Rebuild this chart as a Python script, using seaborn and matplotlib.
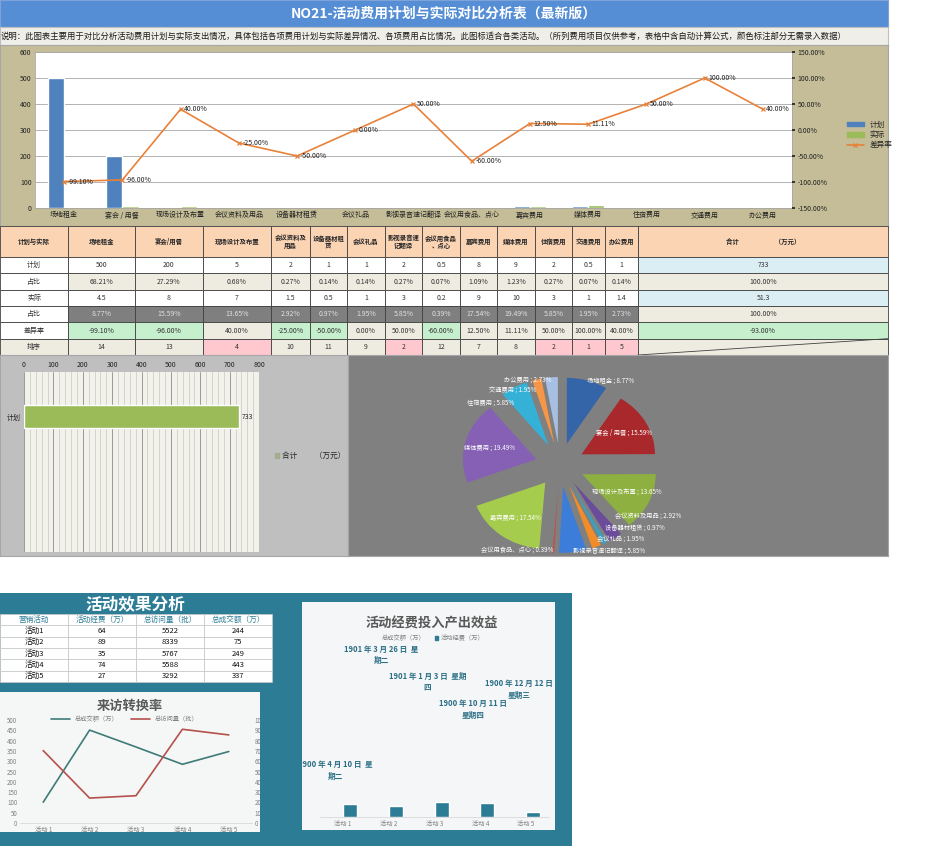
import numpy as np
import pandas as pd
import matplotlib
matplotlib.use('Agg')
import matplotlib.pyplot as plt
from matplotlib.patches import Patch
from matplotlib.lines import Line2D
from matplotlib.ticker import MultipleLocator
import seaborn as sns

# ---- cost plan vs actual ----
items = ['场地租金', '宴会 / 用餐', '现场设计及布置', '会议资料及用品', '设备器材租赁', '会议礼品',
         '影视录音速记翻译', '会议用食品、点心', '嘉宾费用', '媒体费用', '住宿费用', '交通费用', '办公费用']
table_headers = ['场地租金', '宴会/用餐', '现场设计及布置', '会议资料及\n用品', '设备器材租\n赁', '会议礼品',
                 '影视录音速\n记翻译', '会议用食品\n、点心', '嘉宾费用', '媒体费用', '住宿费用', '交通费用', '办公费用']
plan = [500, 200, 5, 2, 1, 1, 2, 0.5, 8, 9, 2, 0.5, 1]
plan_share = [68.21, 27.29, 0.68, 0.27, 0.14, 0.14, 0.27, 0.07, 1.09, 1.23, 0.27, 0.07, 0.14]
actual = [4.5, 8, 7, 1.5, 0.5, 1, 3, 0.2, 9, 10, 3, 1, 1.4]
actual_share = [8.77, 15.59, 13.65, 2.92, 0.97, 1.95, 5.85, 0.39, 17.54, 19.49, 5.85, 1.95, 2.73]
diff_rate = [-99.10, -96.00, 40.00, -25.00, -50.00, 0.00, 50.00, -60.00, 12.50, 11.11, 50.00, 100.00, 40.00]
rank = [14, 13, 4, 10, 11, 9, 2, 12, 7, 8, 2, 1, 5]
plan_total = 733
actual_total = 51.3
diff_total = -93.00

pie_colors = ['#3465A8', '#A8282B', '#8DB041', '#6B4C9A', '#3AA0C0', '#F28C28', '#3B7DD8',
              '#C0504D', '#A6CC4E', '#8560B5', '#35B0D6', '#F79646', '#A7BFE3']

# ---- activity effect section ----
activities = ['活动1', '活动2', '活动3', '活动4', '活动5']
act_fund = [64, 89, 35, 74, 27]
act_visits = [5522, 8339, 5767, 5588, 3292]
act_deal = [244, 75, 249, 443, 337]

chart_acts = ['活动 1', '活动 2', '活动 3', '活动 4', '活动 5']
deal_line = [101, 451, 369, 285, 347]
visit_line = [7030, 2420, 2650, 9100, 8550]
fund_bars = [38, 32, 46, 43, 15]
deal_labels = ['1900 年 4 月 10 日  星\n期二', '1901 年 3 月 26 日  星\n期二', '1901 年 1 月 3 日  星期\n四',
               '1900 年 10 月 11 日\n星期四', '1900 年 12 月 12 日\n星期三']

TEAL = '#2C7C95'
W, H = 927, 846

sns.set_theme(style='white')
plt.rcParams['font.family'] = ['Noto Sans CJK SC', 'DejaVu Sans']
plt.rcParams['axes.unicode_minus'] = False

fig = plt.figure(figsize=(W / 100, H / 100), dpi=100)


def px_axes(x0, y0, x1, y1):
    # axes placed by pixel box, y measured from the top
    return fig.add_axes([x0 / W, 1 - y1 / H, (x1 - x0) / W, (y1 - y0) / H])


def panel(x0, y0, x1, y1, color, edge=None):
    ax = px_axes(x0, y0, x1, y1)
    ax.set_facecolor(color)
    ax.set_xticks([])
    ax.set_yticks([])
    for s in ax.spines.values():
        s.set_visible(edge is not None)
        if edge:
            s.set_edgecolor(edge)
            s.set_linewidth(0.8)
    return ax


def ftext(x, y, s, **kw):
    return fig.text(x / W, 1 - y / H, s, **kw)


# ---- title and description ----
panel(0, 0, 888, 27, '#558ED5', edge='#7FA3D9')
ftext(444, 14, 'NO21-活动费用计划与实际对比分析表（最新版）', color='white', fontsize=10,
      weight='bold', ha='center', va='center')
panel(0, 27, 888, 45, '#EFEEE8', edge='#BFBFBF')
ftext(1, 36, '说明：此图表主要用于对比分析活动费用计划与实际支出情况，具体包括各项费用计划与实际差异情况、'
      '各项费用占比情况。此图标适合各类活动。（所列费用项目仅供参考，表格中含自动计算公式，颜色标注部分无需录入数据）',
      fontsize=6, va='center', color='#1A1A1A')

# ---- main combo chart ----
panel(0, 45, 888, 226, '#C4BD97', edge='#A6A6A6')
ax = px_axes(35, 52, 792, 208)
ax.set_facecolor('white')
bars_df = pd.DataFrame({'项目': items * 2, '金额': plan + actual,
                        '类型': ['计划'] * len(items) + ['实际'] * len(items)})
sns.barplot(data=bars_df, x='项目', y='金额', hue='类型', palette={'计划': '#4F81BD', '实际': '#9BBB59'},
            width=0.56, saturation=1, legend=False, ax=ax)
ax.set_ylim(0, 600)
ax.set_yticks(range(0, 601, 100))
ax.yaxis.grid(True, color='#A6A6A6', lw=0.6)
ax.set_axisbelow(True)
ax.set_xlabel('')
ax.set_ylabel('')
ax.tick_params(axis='both', labelsize=5, colors='#222222', pad=2.5, length=0)
for s in ax.spines.values():
    s.set_color('#A6A6A6')
    s.set_linewidth(0.6)

ax2 = ax.twinx()
sns.pointplot(x=items, y=diff_rate, color='#E8813A', markers='x', markersize=3, linewidth=1.2,
              errorbar=None, ax=ax2)
ax2.set_ylim(-150, 150)
ax2.set_yticks(range(-150, 151, 50))
ax2.set_yticklabels([f'{t:.2f}%' for t in range(-150, 151, 50)])
ax2.tick_params(axis='y', labelsize=5, colors='#222222', pad=2, length=2)
ax2.set_ylabel('')
for s in ax2.spines.values():
    s.set_visible(False)
for i, v in enumerate(diff_rate):
    ax2.annotate(f'{v:.2f}%', (i, v), xytext=(2.5, 0), textcoords='offset points',
                 va='center', fontsize=5, color='#222222')
ax.set_xlim(-0.5, len(items) - 0.5)

fig.legend(handles=[Patch(color='#4F81BD'), Patch(color='#9BBB59'),
                    Line2D([], [], color='#E8813A', marker='x', ms=3, lw=1.2)],
           labels=['计划', '实际', '差异率'], loc='center left',
           bbox_to_anchor=(840 / W, 1 - 135 / H), frameon=False, fontsize=5.5,
           handlelength=2.2, handleheight=0.6, labelspacing=0.3)

# ---- table ----
col_edges = [0, 68, 135, 203, 271, 310, 347, 385, 422, 460, 497, 535, 572, 605, 638, 888]
col_w = np.diff(col_edges) / col_edges[-1]
ax_head = px_axes(0, 226, 888, 257)
ax_head.axis('off')
head = ax_head.table(cellText=[['计划与实际'] + table_headers + ['合计                        （万元）']],
                     cellColours=[['#FBD4B4'] * len(col_w)], colWidths=col_w, bbox=[0, 0, 1, 1],
                     cellLoc='center')
head.auto_set_font_size(False)
head.set_fontsize(4.6)
for cell in head.get_celld().values():
    cell.set_edgecolor('#404040')
    cell.set_linewidth(0.6)
    cell.PAD = 0.02
    cell.get_text().set_fontweight('bold')
    cell.get_text().set_linespacing(1.0)

BEIGE, BLUE, GREEN, PINK, DARK = '#EEECE1', '#DAEEF3', '#C6EFCE', '#FFC7CE', '#7F7F7F'
n = len(items)
body_text = [
    ['计划'] + [f'{v:g}' for v in plan] + [f'{plan_total:g}'],
    ['占比'] + [f'{v:.2f}%' for v in plan_share] + ['100.00%'],
    ['实际'] + [f'{v:g}' for v in actual] + [f'{actual_total:g}'],
    ['占比'] + [f'{v:.2f}%' for v in actual_share] + ['100.00%'],
    ['差异率'] + [f'{v:.2f}%' for v in diff_rate] + [f'{diff_total:.2f}%'],
    ['排序'] + [str(r) for r in rank] + [''],
]
body_colors = [
    ['white'] + ['white'] * n + [BLUE],
    ['white'] + [BEIGE] * n + [BEIGE],
    ['white'] + ['white'] * n + [BLUE],
    ['white'] + [DARK] * n + [BEIGE],
    ['white'] + [GREEN if v < 0 else BEIGE for v in diff_rate] + [GREEN if diff_total < 0 else BEIGE],
    [BEIGE] + [PINK if r <= 5 else BEIGE for r in rank] + [BEIGE],
]
ax_body = px_axes(0, 257, 888, 355)
ax_body.axis('off')
body = ax_body.table(cellText=body_text, cellColours=body_colors, colWidths=col_w,
                     bbox=[0, 0, 1, 1], cellLoc='center')
body.auto_set_font_size(False)
body.set_fontsize(5)
for (r, c), cell in body.get_celld().items():
    cell.set_edgecolor('#404040')
    cell.set_linewidth(0.6)
    cell.get_text().set_color('#E0E0E0' if body_colors[r][c] == DARK else '#333333')
ax_body.plot([col_edges[-2] / col_edges[-1], 1], [0, 1 / 6], transform=ax_body.transAxes,
             color='#404040', lw=0.6, clip_on=False)

# ---- total bar (bottom left) ----
panel(0, 355, 348, 556, '#BFBFBF', edge='#A6A6A6')
ax_tot = px_axes(24, 372, 259, 552)
ax_tot.set_facecolor('#F2F2EA')
sns.barplot(x=[plan_total], y=['计划'], orient='h', color='#9BBB59', saturation=1, width=0.8, ax=ax_tot)
ax_tot.set_xlim(0, 800)
ax_tot.set_ylim(4.7, -1.55)
ax_tot.xaxis.tick_top()
ax_tot.xaxis.set_major_locator(MultipleLocator(100))
ax_tot.xaxis.set_minor_locator(MultipleLocator(20))
ax_tot.grid(True, which='major', axis='x', color='#8C8C8C', lw=0.6)
ax_tot.grid(True, which='minor', axis='x', color='#CFCFC8', lw=0.6)
ax_tot.set_axisbelow(True)
ax_tot.tick_params(axis='both', which='both', labelsize=5, colors='#222222', pad=2, length=0)
for s in ax_tot.spines.values():
    s.set_visible(False)
ax_tot.bar_label(ax_tot.containers[0], fmt='%g', padding=2, fontsize=5, color='#222222')
fig.legend(handles=[Patch(color='#A3AE8C')], labels=['合计          （万元）'], loc='center left',
           bbox_to_anchor=(268 / W, 1 - 456 / H), frameon=False, fontsize=5.5,
           handlelength=0.6, handleheight=0.6, handletextpad=0.3)

# ---- share pie ----
panel(348, 355, 888, 556, '#808080', edge='#A6A6A6')
pie_ax = px_axes(462, 377, 658, 553)
wedges, _ = pie_ax.pie(actual_share, radius=0.75, explode=[0.25] * n, startangle=90,
                       counterclock=False, colors=pie_colors, wedgeprops=dict(linewidth=0))
pie_ax.set_xlim(-1, 1)
pie_ax.set_ylim(-1, 1)
pie_ax.set_aspect('auto')
pie_ax.axis('off')

label_pos = []
for w, share in zip(wedges, actual_share):
    ang = np.deg2rad((w.theta1 + w.theta2) / 2)
    big = share >= 10
    d = 0.75 if big else 1.0
    label_pos.append([d * np.cos(ang), d * np.sin(ang), big])
# spread the small outside labels so they do not pile up
GAP, LIM = 0.13, 0.97
for right in (True, False):
    for top in (True, False):
        idx = [i for i, (x, y, big) in enumerate(label_pos)
               if not big and (x > 0) == right and (y > 0) == top]
        idx.sort(key=lambda i: -label_pos[i][1] if top else label_pos[i][1])
        prev = None
        for i in idx:
            y = label_pos[i][1]
            if top:
                y = min(y, LIM if prev is None else prev - GAP)
            else:
                y = max(y, -LIM if prev is None else prev + GAP)
            label_pos[i][1] = y
            prev = y
for (x, y, big), name, share in zip(label_pos, items, actual_share):
    ha = 'center' if big else ('left' if x > 0 else 'right')
    pie_ax.text(x, y, f'{name} ; {share:.2f}%', ha=ha, va='center', fontsize=4.5, color='white')

# ---- activity effect section ----
panel(0, 593, 572, 846, TEAL)
ftext(135, 604, '活动效果分析', color='white', fontsize=12, weight='bold', ha='center', va='center')
ax_act = px_axes(0, 614, 272, 682)
ax_act.axis('off')
act_text = [['营销活动', '活动经费（万）', '总访问量（批）', '总成交额（万）']] + \
           [[a, str(f), str(v), str(d)] for a, f, v, d in zip(activities, act_fund, act_visits, act_deal)]
act_tbl = ax_act.table(cellText=act_text, cellColours=[['white'] * 4] * len(act_text),
                       bbox=[0, 0, 1, 1], cellLoc='center')
act_tbl.auto_set_font_size(False)
act_tbl.set_fontsize(5.5)
for (r, c), cell in act_tbl.get_celld().items():
    cell.set_edgecolor('#C8C8C8')
    cell.set_linewidth(0.5)
    cell.get_text().set_color(TEAL if r == 0 else '#111111')

# line chart: visit conversion
lbox = panel(0, 692, 260, 832, '#F5F6F6')
ftext(130, 706, '来访转换率', color='#595959', fontsize=9.5, weight='bold', ha='center', va='center')
lax = px_axes(20, 720, 252, 823)
lax.set_facecolor('none')
sns.lineplot(x=np.arange(len(chart_acts)), y=deal_line, color='#3E7B78', lw=1.2, ax=lax)
lax2 = lax.twinx()
sns.lineplot(x=np.arange(len(chart_acts)), y=visit_line, color='#B5504C', lw=1.2, ax=lax2)
lax.set_xlim(-0.5, len(chart_acts) - 0.5)
lax.set_xticks(range(len(chart_acts)))
lax.set_xticklabels(chart_acts)
lax.set_ylim(0, 500)
lax.set_yticks(range(0, 501, 50))
lax2.set_ylim(0, 10000)
lax2.set_yticks(range(0, 10001, 1000))
for a in (lax, lax2):
    a.tick_params(labelsize=4.5, colors='#808080', length=0, pad=2)
    for s in a.spines.values():
        s.set_visible(False)
lax.spines['bottom'].set_visible(True)
lax.spines['bottom'].set_color('#D9D9D9')
lax.spines['bottom'].set_linewidth(0.6)
for t in lax2.get_yticklabels():
    t.set_clip_path(lbox.patch)
fig.legend(handles=[Line2D([], [], color='#3E7B78', lw=1.2), Line2D([], [], color='#B5504C', lw=1.2)],
           labels=['总成交额（万）', '总访问量（批）'], loc='center', ncol=2,
           bbox_to_anchor=(125 / W, 1 - 719 / H), frameon=False, fontsize=4.5,
           handlelength=3, columnspacing=2, labelcolor='#808080')

# bar chart: funds vs deals
bbox_ax = panel(302, 602, 555, 830, '#F4F6F7')
ftext(432, 623, '活动经费投入产出效益', color='#595959', fontsize=9.5, weight='bold', ha='center', va='center')
bax = px_axes(320, 645, 549, 817)
bax.set_facecolor('none')
fund_df = pd.DataFrame({'活动': chart_acts * 2, '金额': deal_line + fund_bars,
                        '系列': ['总成交额（万）'] * 5 + ['活动经费（万）'] * 5})
sns.barplot(data=fund_df, x='活动', y='金额', hue='系列', palette=[TEAL, TEAL], saturation=1,
            width=0.62, legend=False, ax=bax)
for p in bax.containers[0]:
    p.set_alpha(0)
bax.set_ylim(0, 521)
bax.set_yticks([])
bax.set_xlabel('')
bax.set_ylabel('')
bax.tick_params(axis='x', labelsize=4.5, colors='#808080', length=0, pad=2)
for s in bax.spines.values():
    s.set_visible(False)
bax.spines['bottom'].set_visible(True)
bax.spines['bottom'].set_color('#D9D9D9')
bax.spines['bottom'].set_linewidth(0.6)
for t in bax.bar_label(bax.containers[0], labels=deal_labels, padding=2, fontsize=5.5,
                       weight='bold', color='#2B6F86', linespacing=1.4):
    t.set_clip_path(bbox_ax.patch)
fig.legend(handles=[Patch(alpha=0), Patch(color=TEAL)], labels=['总成交额（万）', '活动经费（万）'],
           loc='center', ncol=2, bbox_to_anchor=(430 / W, 1 - 638 / H), frameon=False,
           fontsize=4.5, handlelength=0.6, handleheight=0.6, handletextpad=0.3,
           columnspacing=1.5, labelcolor='#808080')

fig.savefig('out.png', dpi=100)
